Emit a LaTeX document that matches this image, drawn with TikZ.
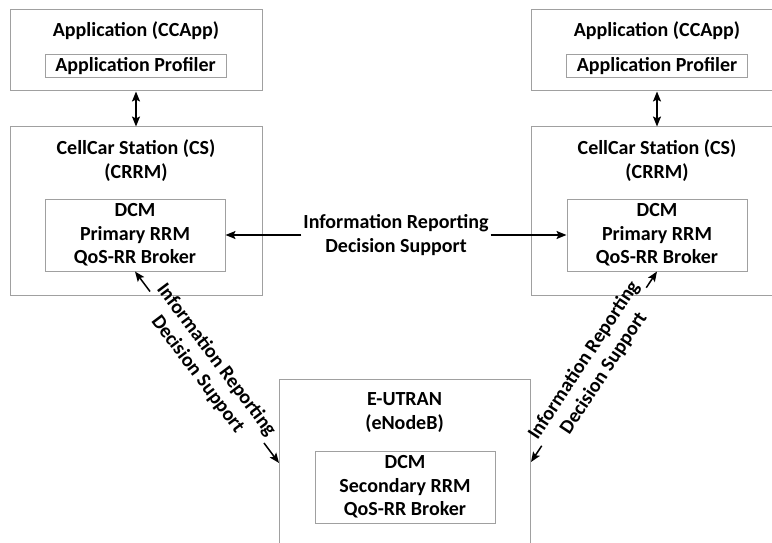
\documentclass[tikz,border=0pt]{standalone}
\usepackage{fontspec}
\setmainfont{Carlito}
\usetikzlibrary{arrows.meta}
\definecolor{boxgray}{RGB}{160,160,160}
\tikzset{
  txt/.style={font=\fontsize{20}{23.5}\selectfont\bfseries, inner sep=0pt},
  box/.style={draw=boxgray, line width=1pt, inner sep=0pt},
  inbox/.style={box, txt, align=center},
  arr/.style={line width=1.5pt, -{Stealth[length=10pt,width=8pt,inset=2pt]}},
  arrb/.style={line width=1.5pt, {Stealth[length=10pt,width=8pt,inset=2pt]}-{Stealth[length=10pt,width=8pt,inset=2pt]}},
  lab/.style={txt, align=center, inner xsep=2pt, inner ysep=1pt}
}
\begin{document}
\begin{tikzpicture}[x=1pt,y=-1pt]
\useasboundingbox (0,0) rectangle (772,543);
\clip (0,0) rectangle (772,543);
% left column
\node[box, minimum width=252pt, minimum height=81pt] (appL) at (136,50.5) {};
\node[txt, anchor=base] (tAppL) at (136,37) {Application (CCApp)};
\node[inbox, minimum width=181pt, minimum height=23pt] (profL) at (135.5,66) {Application Profiler};
\node[box, minimum width=252pt, minimum height=168pt] (csL) at (136,211) {};
\node[txt, anchor=base] (tCSL1) at (136,154) {CellCar Station (CS)};
\node[txt, anchor=base] (tCSL2) at (136,178) {(CRRM)};
\node[inbox, minimum width=180pt, minimum height=72pt] (dcmL) at (135,235) {DCM\\Primary RRM\\QoS-RR Broker};
% right column
\node[box, minimum width=252pt, minimum height=81pt] (appR) at (657,50.5) {};
\node[txt, anchor=base] (tAppR) at (657,37) {Application (CCApp)};
\node[inbox, minimum width=181pt, minimum height=23pt] (profR) at (657,66) {Application Profiler};
\node[box, minimum width=252pt, minimum height=168pt] (csR) at (657,211) {};
\node[txt, anchor=base] (tCSR1) at (657,154) {CellCar Station (CS)};
\node[txt, anchor=base] (tCSR2) at (657,178) {(CRRM)};
\node[inbox, minimum width=180pt, minimum height=72pt] (dcmR) at (657,235) {DCM\\Primary RRM\\QoS-RR Broker};
% bottom
\node[box, minimum width=251pt, minimum height=181pt] (eut) at (404.5,469.5) {};
\node[txt, anchor=base] (tE1) at (404.5,405) {E-UTRAN};
\node[txt, anchor=base] (tE2) at (404.5,429) {(eNodeB)};
\node[inbox, minimum width=180pt, minimum height=72pt] (dcmB) at (405,487) {DCM\\Secondary RRM\\QoS-RR Broker};
% vertical arrows
\draw[arrb] (appL.south) -- (csL.north);
\draw[arrb] (appR.south) -- (csR.north);
% horizontal link
\node[lab] (hlab) at (396,235) {Information Reporting\\Decision Support};
\draw[arr] (hlab) -- (dcmL.east);
\draw[arr] (hlab) -- (dcmR.west);
% diagonal links
\coordinate (eL) at (279,463);
\coordinate (eR) at (531,462);
\path (dcmL.south) -- node[lab, sloped, pos=0.5] (dlabL) {Information Reporting\\Decision Support} (eL);
\draw[arr] (dlabL) -- (dcmL.south);
\draw[arr] (dlabL) -- (eL);
\path (dcmR.south) -- node[lab, sloped, pos=0.5] (dlabR) {Information Reporting\\Decision Support} (eR);
\draw[arr] (dlabR) -- (dcmR.south);
\draw[arr] (dlabR) -- (eR);
\end{tikzpicture}
\end{document}
